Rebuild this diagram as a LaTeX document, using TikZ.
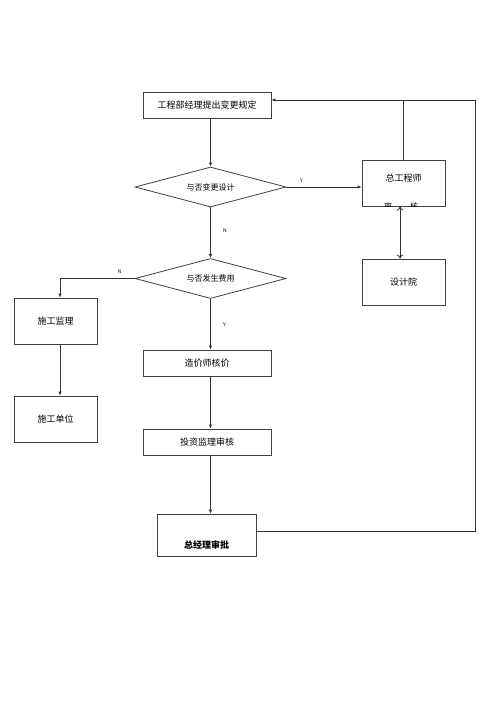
\documentclass[tikz,border=0pt]{standalone}
\usepackage{fontspec}
\setmainfont{Noto Sans CJK SC}
\usetikzlibrary{shapes.geometric,arrows.meta}

\begin{document}
\begin{tikzpicture}[x=1pt,y=-1pt,
    line width=0.8pt,
    box/.style={draw=black!75,rectangle,inner sep=0pt,font=\fontsize{9}{10}\selectfont},
    choice/.style={draw=black!75,diamond,aspect=3.78,inner sep=0pt,
      minimum width=151pt,minimum height=40pt,font=\fontsize{8}{9}\selectfont},
    flow/.style={draw=black!80,-{Latex[length=4pt,width=3.5pt]}},
    yn/.style={font=\fontsize{5}{6}\selectfont}]
  \useasboundingbox (0,0) rectangle (500,707);

  % main column
  \node[box,minimum width=128pt,minimum height=26pt] (req) at (207,105) {工程部经理提出变更规定};
  \node[choice] (dsg) at (210.5,187) {与否变更设计};
  \node[choice] (fee) at (210.5,278.5) {与否发生费用};
  \node[box,minimum width=128pt,minimum height=26pt] (cost) at (207,363) {造价师核价};
  \node[box,minimum width=128pt,minimum height=26pt] (inv) at (207,442) {投资监理审核};
  \node[box,minimum width=99pt,minimum height=42pt] (gm) at (206.5,535) {};
  \node[font=\fontsize{9}{10}\selectfont\bfseries] (gmtxt) at (206.5,545) {总经理审批};

  % right side
  \node[box,minimum width=83pt,minimum height=46pt] (chief) at (403.5,183) {};
  \node[font=\fontsize{9}{10}\selectfont] (chieftxt) at (403.5,178) {总工程师};
  \begin{scope}
    \clip (chief.south west) rectangle (chief.north east);
    \node[font=\fontsize{8}{9}\selectfont] (audit) at (401,206.5) {审\hspace{18pt}核};
  \end{scope}
  \node[box,minimum width=83pt,minimum height=46pt] (inst) at (403.5,282) {设计院};

  % left side
  \node[box,minimum width=83pt,minimum height=46pt] (sup) at (55.5,321) {施工监理};
  \node[box,minimum width=83pt,minimum height=46pt] (unit) at (55.5,419) {施工单位};

  \coordinate (top) at (475,100);
  \coordinate (corner) at (475,531);
  \coordinate (bend) at (60,278.5);

  % connectors
  \draw[flow] (req.south -| dsg) -- (dsg.north);
  \draw[flow] (dsg.south) -- node[yn,pos=0.45,right=9pt] {N} (fee.north);
  \draw[flow] (fee.south) -- node[yn,pos=0.5,right=9pt] {Y} (cost.north -| fee);
  \draw[flow] (cost.south -| fee) -- (inv.north -| fee);
  \draw[flow] (inv.south -| fee) -- (gm.north -| fee);
  \draw[flow] (dsg.east) -- node[yn,pos=0.2,above=1pt] {Y} (chief.west |- dsg.east);
  \draw[draw=black!80,{To[length=4pt,width=6pt]}-{To[length=4pt,width=6pt]}] (chief.south -| 400,0) -- (inst.north -| 400,0);
  \draw[flow] (fee.west) -- node[yn,pos=0.2,above=1pt] {N} (bend) -- (bend |- sup.north);
  \draw[flow] (bend |- sup.south) -- (bend |- unit.north);
  \draw[draw=black!80] (chief.north) -- (chief.north |- top);
  \draw[flow] (gm.east |- corner) -- (corner) -- (top) -- (req.east |- top);
\end{tikzpicture}
\end{document}
